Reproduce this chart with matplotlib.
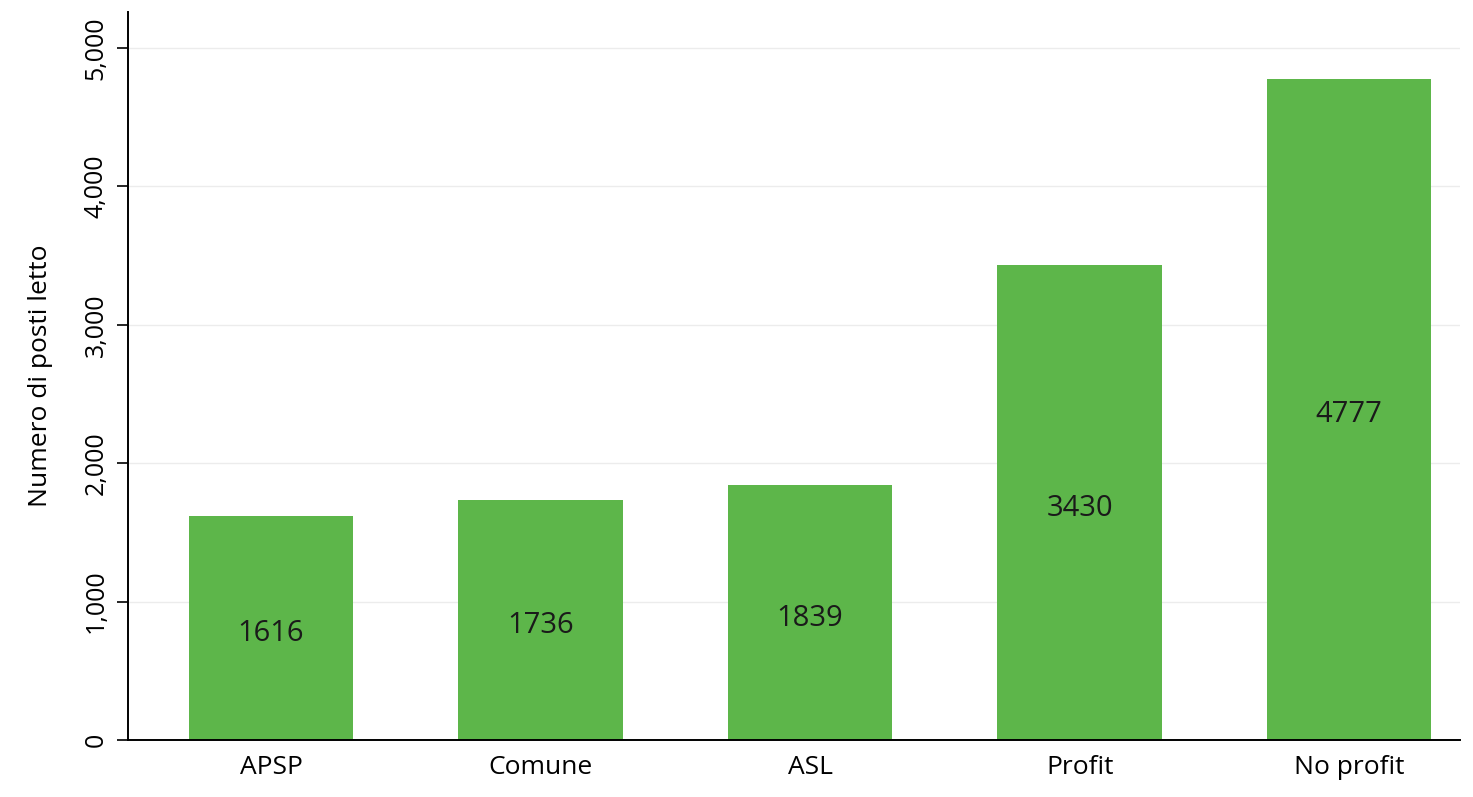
import matplotlib
matplotlib.use("Agg")
import matplotlib.pyplot as plt
from matplotlib.ticker import FuncFormatter

categories = ["APSP", "Comune", "ASL", "Profit", "No profit"]
values = [1616, 1736, 1839, 3430, 4777]
yticks = [0, 1000, 2000, 3000, 4000, 5000]

plt.rcParams['font.family'] = ['Open Sans', 'DejaVu Sans']

fig = plt.figure(figsize=(14.73, 7.97), dpi=100)
ax = fig.add_axes([0.087, 0.0715, 0.904, 0.9135])

x = list(range(len(categories)))
bars = ax.bar(x, values, width=0.61, color="#5db64a", zorder=2)
for xi, v in zip(x, values):
    ax.text(xi, v / 2 - 40, str(v), ha="center", va="center", fontsize=21, color="#1a1a1a", zorder=3)

ax.set_xlim(-0.53, 4.41)
ax.set_ylim(0, 5260)
ax.set_xticks(x)
ax.set_xticklabels(categories, fontsize=19)
ax.set_yticks(yticks)
ax.yaxis.set_major_formatter(FuncFormatter(lambda v, p: f"{int(v):,}"))
for lab in ax.get_yticklabels():
    lab.set_rotation(90)
    lab.set_va("center")
ax.tick_params(axis="y", labelsize=18, length=8, width=1.2, pad=6)
ax.tick_params(axis="x", length=0, pad=11)
ax.set_ylabel("Numero di posti letto", fontsize=19, labelpad=22)

ax.grid(axis="y", color="#ececec", linewidth=1, zorder=0)
ax.spines["top"].set_visible(False)
ax.spines["right"].set_visible(False)
ax.spines["left"].set_linewidth(1.4)
ax.spines["bottom"].set_linewidth(1.4)

fig.savefig("out.png", dpi=100)
